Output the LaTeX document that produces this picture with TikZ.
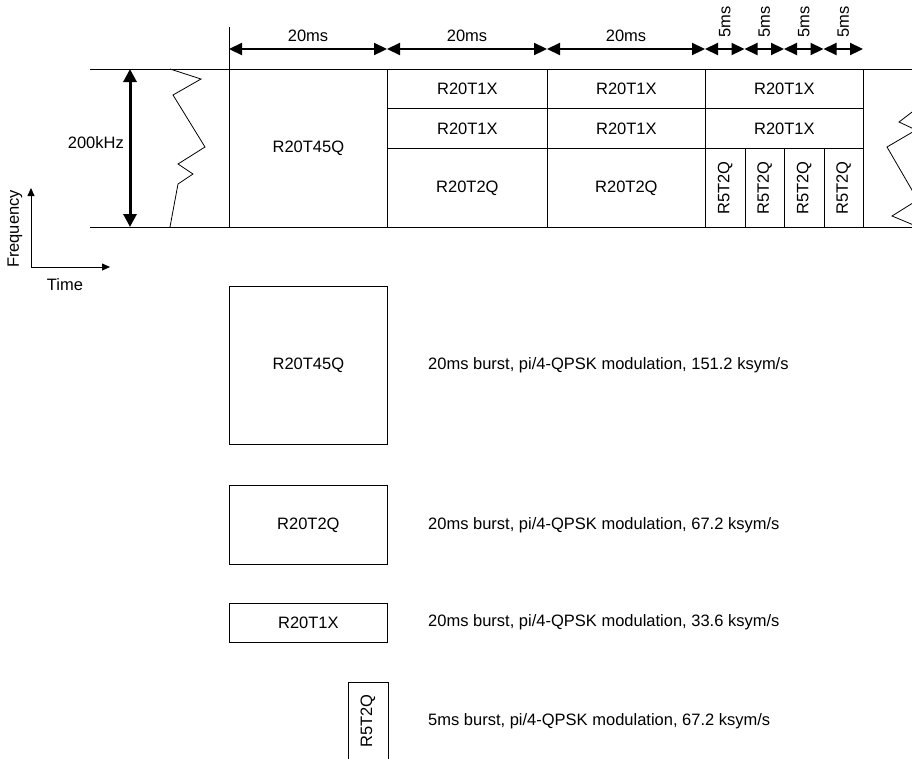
\documentclass[tikz,border=0pt]{standalone}
\usepackage{fontspec}
\setmainfont{Liberation Sans}
\usetikzlibrary{arrows.meta,positioning,calc}
\tikzset{
  txt/.style={font=\fontsize{16.5}{19}\selectfont,inner sep=0pt},
  cell/.style={txt,draw,line width=0.8pt,anchor=north west,minimum width=158pt},
  lbl/.style={txt,anchor=west},
  dim/.style={{Triangle[length=13pt,width=12pt]}-{Triangle[length=13pt,width=12pt]},line width=2.2pt},
  bw/.style={{Triangle[length=13pt,width=13pt]}-{Triangle[length=13pt,width=13pt]},line width=3pt},
  ax/.style={-{Triangle[length=8pt,width=7pt]},line width=0.8pt},
  thin/.style={line width=0.8pt}
}
\begin{document}
\begin{tikzpicture}[x=1pt,y=-1pt]
  \useasboundingbox (0,0) rectangle (912,758);
  \clip (0,0) rectangle (912,758);
  % band edges
  \draw[thin] (90,69) -- (912,69);
  \draw[thin] (90,227) -- (912,227);
  \draw[thin] (229,27) -- (229,227);
  % band width
  \coordinate (bwtop) at (130,69);
  \coordinate (bwbot) at (130,227);
  \draw[bw] (bwtop) -- (bwbot);
  \node[txt,anchor=east] (bwlbl) at (124,143) {200kHz};
  % cut marks
  \draw[thin] (170,69) -- (201,79) -- (173,95) -- (205,147) -- (178,164)
    -- (193,174) -- (178,184) -- (170,227);
  \draw[thin] (916,109) -- (899,122) -- (916,130) -- (887,147) -- (916,197);
  \draw[thin] (916,201) -- (892,216) -- (916,226);
  % time slots
  \node[cell,minimum height=158pt] (q45) at (229,69) {R20T45Q};
  \foreach \x/\w/\n in {387/160/a,547/158/b,705/158/c}{
    \node[cell,minimum width=\w pt,minimum height=39pt] (x1\n) at (\x,69) {R20T1X};
    \node[cell,minimum width=\w pt,minimum height=40pt] (x2\n) at (\x,108) {R20T1X};
  }
  \node[cell,minimum width=160pt,minimum height=79pt] (q2a) at (387,148) {R20T2Q};
  \node[cell,minimum height=79pt] (q2b) at (547,148) {R20T2Q};
  \foreach \i/\x in {1/705,2/744.5,3/784,4/823.5}{
    \node[cell,minimum width=39.5pt,minimum height=79pt] (q5\i) at (\x,148) {};
    \node[txt,rotate=90] at (q5\i.center) {R5T2Q};
  }
  % durations
  \foreach \i/\x in {0/229,1/387,2/547,3/705,4/744.5,5/784,6/823.5,7/863}
    \coordinate (d\i) at (\x,49);
  \foreach \a/\b in {0/1,1/2,2/3}
    \draw[dim] (d\a) -- node[txt,above=6pt] {20ms} (d\b);
  \foreach \a/\b in {3/4,4/5,5/6,6/7}{
    \draw[dim] (d\a) -- (d\b);
    \node[txt,rotate=90,anchor=west] (ms\a) at ($(d\a)!0.5!(d\b)+(0,-11)$) {5ms};
  }
  % axes
  \coordinate (org) at (31,267);
  \coordinate (fax) at (31,188);
  \coordinate (tax) at (110,267);
  \draw[ax] (org) -- (fax);
  \draw[ax] (org) -- (tax);
  \node[txt,rotate=90] (flbl) at (15,229) {Frequency};
  \node[txt] (tlbl) at (65,285) {Time};
  % legend
  \node[cell,minimum height=158pt] (k45) at (229,286) {R20T45Q};
  \node[lbl] (t45) at (428,365) {20ms burst, pi/4-QPSK modulation, 151.2 ksym/s};
  \node[cell,minimum height=79pt] (k2) at (229,485) {R20T2Q};
  \node[lbl] (t2) at (428,525) {20ms burst, pi/4-QPSK modulation, 67.2 ksym/s};
  \node[cell,minimum height=39pt] (k1) at (229,603) {R20T1X};
  \node[lbl] (t1) at (428,622) {20ms burst, pi/4-QPSK modulation, 33.6 ksym/s};
  \node[cell,minimum width=40pt,minimum height=80pt] (k5) at (348,682) {};
  \node[txt,rotate=90] at (368,721) {R5T2Q};
  \node[lbl] (t5) at (428,721) {5ms burst, pi/4-QPSK modulation, 67.2 ksym/s};
\end{tikzpicture}
\end{document}
